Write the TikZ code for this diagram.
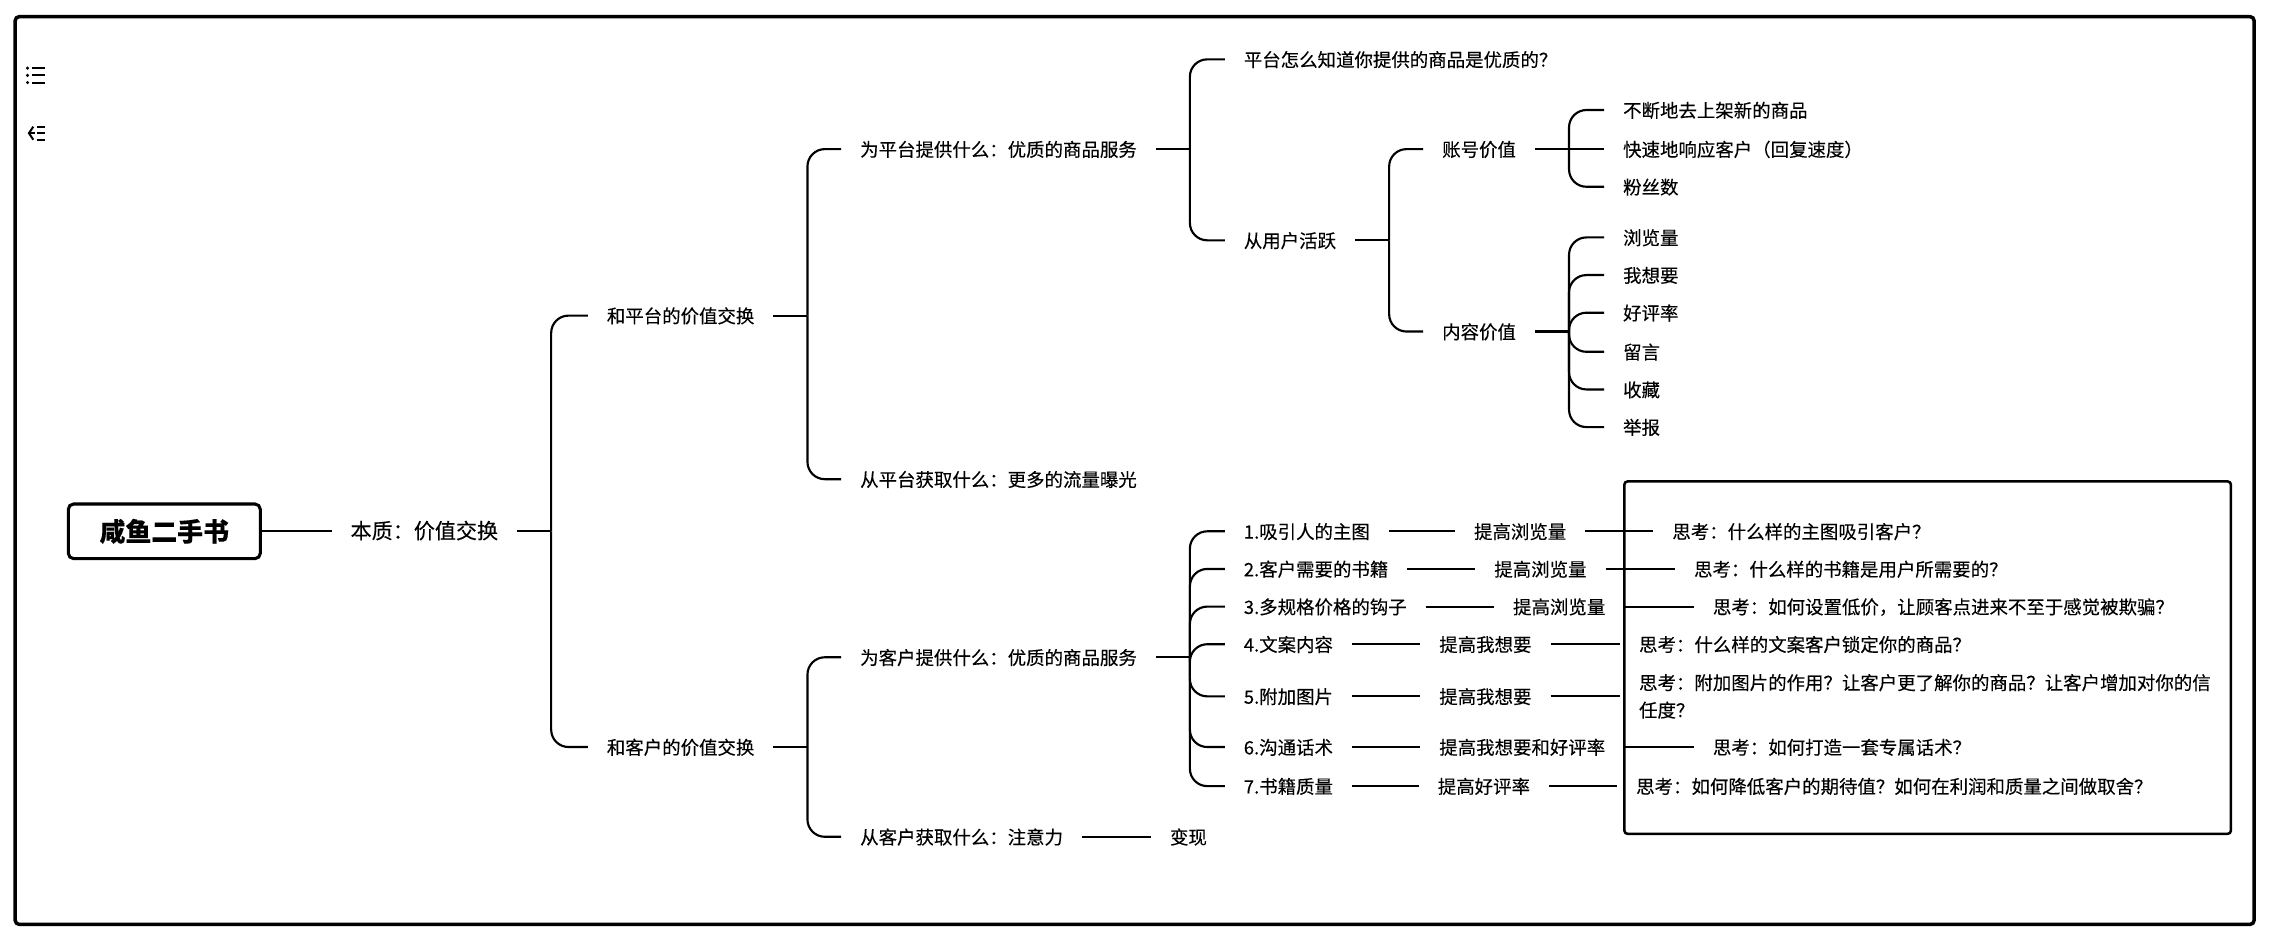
\documentclass[tikz,border=0pt]{standalone}
\usepackage{fontspec}
\setmainfont[FakeBold=0.2]{Noto Sans CJK SC}
\tikzset{
  x=1.0858pt, y=-1.0858pt,
  lab/.style={anchor=west,xshift=-14.1pt,inner xsep=14.1pt,inner ysep=0pt,font=\fontsize{13.83pt}{20.6pt}\selectfont,text height=12.5pt,text depth=1.5pt,align=left,text=black},
  bigl/.style={lab,font=\fontsize{15.8pt}{20pt}\selectfont},
  rootbox/.style={draw=black,line width=2.3pt,rounded corners=4pt,minimum width=144pt,minimum height=41pt,inner sep=0pt,font=\fontsize{19.4pt}{22pt}\selectfont\bfseries},
  conn/.style={draw=black,line width=1.6pt},
  elbow/.style={conn,rounded corners=13pt},
  outerframe/.style={draw=black,line width=2.6pt,rounded corners=3pt},
  notebox/.style={draw=black,line width=1.9pt,rounded corners=2.5pt},
  iconline/.style={draw=black,line width=1.5pt}
}
\newcommand{\nd}[4]{\node[lab] (#1) at (#2,#3) {#4};}
\newcommand{\stem}[1]{\draw[conn] (#1.east) -- ++(23.5,0);}
\newcommand{\brk}[2]{\draw[elbow] (#1.east) ++(23.5,0) |- (#2.west);}
\newcommand{\lnk}[2]{\draw[conn] (#1.east) -- (#2.west);}
\begin{document}
\begin{tikzpicture}
\useasboundingbox[fill=white] (0,0) rectangle (1568,650.7);
\draw[outerframe] (10.5,11.5) rectangle (1557,638.5);
\draw[notebox] (1122,332.5) rectangle (1541,576);
% icons
\foreach \yy in {47,52,57}{
  \fill (19,\yy) circle (1.3pt);
  \draw[iconline] (22,\yy) -- (31,\yy);
}
\draw[iconline] (23,87.5) -- (20,92) -- (23,96.5);
\draw[iconline] (19,92) -- (24,92);
\foreach \yy in {87.5,92,96.5}{\draw[iconline] (25.5,\yy) -- (31,\yy);}
% nodes
\node[rootbox] (root) at (113.5,367) {咸鱼二手书};
\node[bigl] (essence) at (242,367) {本质：价值交换};
\nd{plat}{419}{218}{和平台的价值交换}
\nd{cust}{419}{516}{和客户的价值交换}
\nd{pgive}{594}{103}{为平台提供什么：优质的商品服务}
\nd{pget}{594}{331}{从平台获取什么：更多的流量曝光}
\nd{cgive}{594}{454}{为客户提供什么：优质的商品服务}
\nd{cget}{594}{578}{从客户获取什么：注意力}
\nd{money}{808}{578}{变现}
\nd{how}{859}{41}{平台怎么知道你提供的商品是优质的？}
\nd{active}{859}{166}{从用户活跃}
\nd{acct}{996}{103}{账号价值}
\nd{cont}{996}{229}{内容价值}
\nd{a1}{1121}{76}{不断地去上架新的商品}
\nd{a2}{1121}{103}{快速地响应客户（回复速度）}
\nd{a3}{1121}{129}{粉丝数}
\nd{c1}{1121}{164}{浏览量}
\nd{c2}{1121}{190}{我想要}
\nd{c3}{1121}{216}{好评率}
\nd{c4}{1121}{243}{留言}
\nd{c5}{1121}{269}{收藏}
\nd{c6}{1121}{295}{举报}
\nd{i1}{859}{367}{1.吸引人的主图}
\nd{i2}{859}{393}{2.客户需要的书籍}
\nd{i3}{859}{419}{3.多规格价格的钩子}
\nd{i4}{859}{445}{4.文案内容}
\nd{i5}{859}{481}{5.附加图片}
\nd{i6}{859}{516}{6.沟通话术}
\nd{i7}{859}{543}{7.书籍质量}
\nd{m1}{1018}{367}{提高浏览量}
\nd{m2}{1032}{393}{提高浏览量}
\nd{m3}{1045}{419}{提高浏览量}
\nd{m4}{994}{445}{提高我想要}
\nd{m5}{994}{481}{提高我想要}
\nd{m6}{994}{516}{提高我想要和好评率}
\nd{m7}{993}{543}{提高好评率}
\nd{t1}{1155}{367}{思考：什么样的主图吸引客户？}
\nd{t2}{1170}{393}{思考：什么样的书籍是用户所需要的？}
\nd{t3}{1183}{419}{思考：如何设置低价，让顾客点进来不至于感觉被欺骗？}
\nd{t4}{1132}{445}{思考：什么样的文案客户锁定你的商品？}
\node[lab,text height=,text depth=] (t5) at (1132,481) {思考：附加图片的作用？让客户更了解你的商品？让客户增加对你的信\\任度？};
\nd{t6}{1183}{516}{思考：如何打造一套专属话术？}
\nd{t7}{1130}{543}{思考：如何降低客户的期待值？如何在利润和质量之间做取舍？}
% connectors
\lnk{root}{essence}
\stem{essence}\brk{essence}{plat}\brk{essence}{cust}
\stem{plat}\brk{plat}{pgive}\brk{plat}{pget}
\stem{cust}\brk{cust}{cgive}\brk{cust}{cget}
\stem{pgive}\brk{pgive}{how}\brk{pgive}{active}
\stem{active}\brk{active}{acct}\brk{active}{cont}
\stem{acct}\brk{acct}{a1}\lnk{acct}{a2}\brk{acct}{a3}
\stem{cont}\brk{cont}{c1}\brk{cont}{c2}\brk{cont}{c3}\brk{cont}{c4}\brk{cont}{c5}\brk{cont}{c6}
\lnk{cget}{money}
\stem{cgive}
\brk{cgive}{i1}\brk{cgive}{i2}\brk{cgive}{i3}\brk{cgive}{i4}\brk{cgive}{i5}\brk{cgive}{i6}\brk{cgive}{i7}
\foreach \k in {1,...,7}{\lnk{i\k}{m\k}\lnk{m\k}{t\k}}
\end{tikzpicture}
\end{document}
